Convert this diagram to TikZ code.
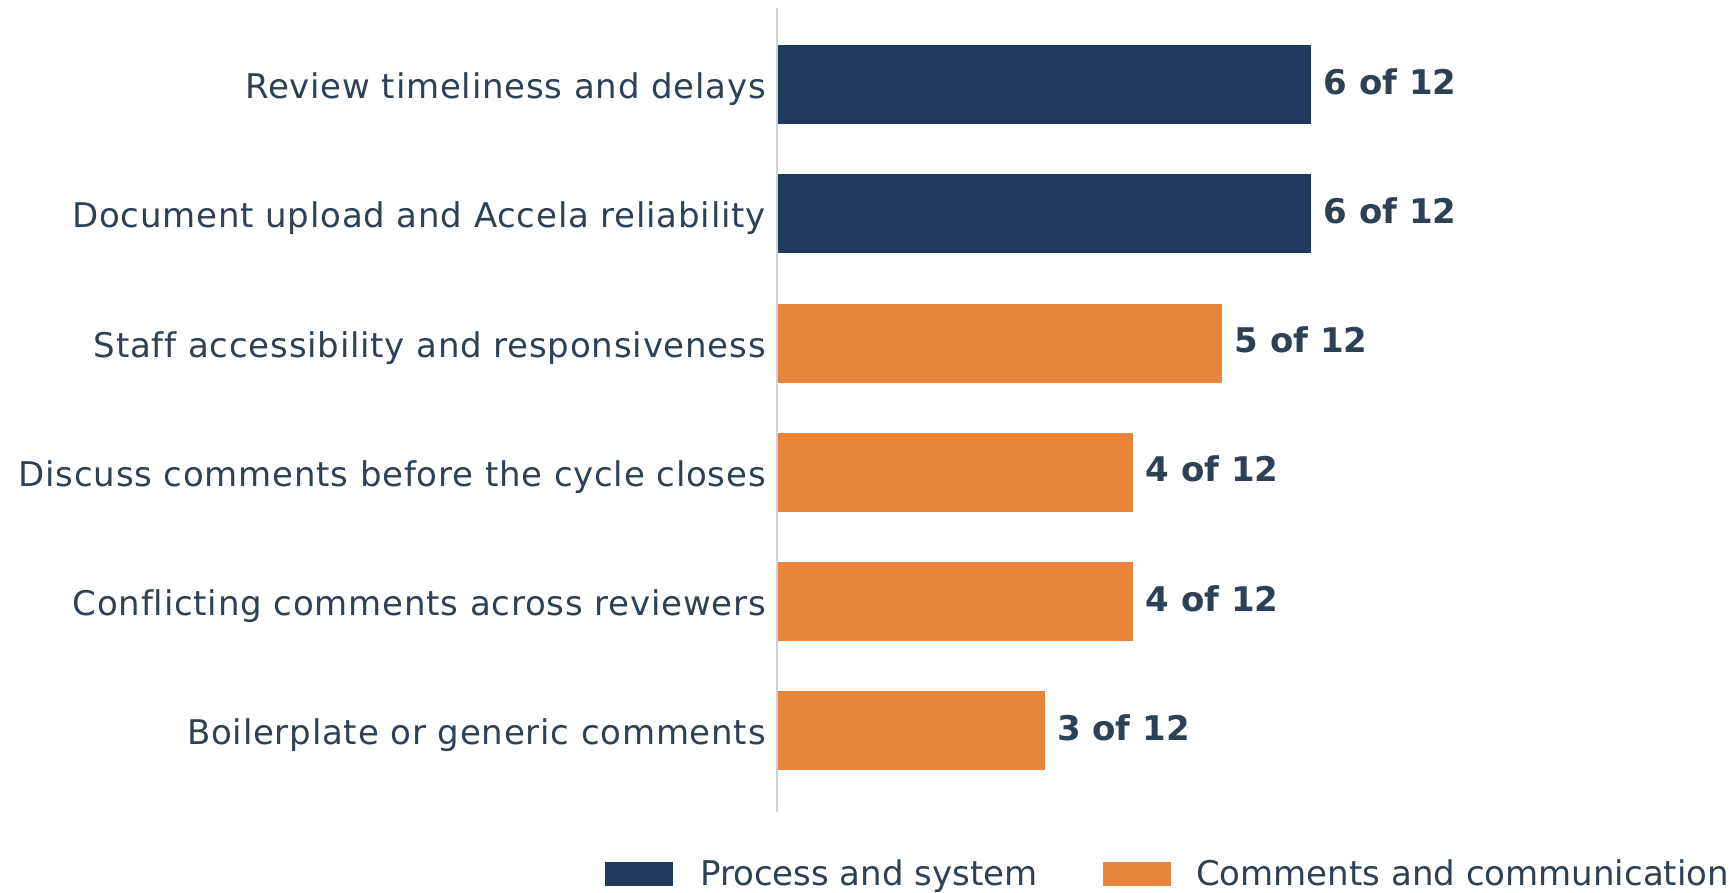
\documentclass[tikz,border=0pt]{standalone}
\usepackage{fontspec}
\setmainfont{DejaVu Sans}[Ligatures=NoCommon]
\newfontfamily\catfont{DejaVu Sans}[Ligatures=NoCommon,LetterSpace=2.3]
\definecolor{navy}{RGB}{31,58,93}
\definecolor{orng}{RGB}{232,132,60}
\definecolor{txt}{RGB}{46,64,83}
\definecolor{axisgray}{RGB}{204,209,217}
\begin{document}
\begin{tikzpicture}[x=1pt,y=-1pt,
  barnavy/.style={fill=navy,draw=none},
  barorng/.style={fill=orng,draw=none},
  catlabel/.style={anchor=base east,inner sep=0pt,text=txt,font=\catfont\fontsize{34}{40}\selectfont},
  vallabel/.style={anchor=base west,inner sep=0pt,text=txt,font=\fontsize{34}{40}\selectfont\bfseries},
  legtext/.style={anchor=base west,inner sep=0pt,text=txt,font=\fontsize{34}{40}\selectfont}]
\useasboundingbox (0,0) rectangle (1732,892);
\fill[white] (0,0) rectangle (1732,892);
% bars: left 778, unit 88.8, height 79
\node[barnavy,minimum width=533pt,minimum height=79pt,inner sep=0pt,anchor=west] (b1) at (778,84.5) {};
\node[barnavy,minimum width=533pt,minimum height=79pt,inner sep=0pt,anchor=west] (b2) at (778,213.7) {};
\node[barorng,minimum width=444pt,minimum height=79pt,inner sep=0pt,anchor=west] (b3) at (778,343) {};
\node[barorng,minimum width=355pt,minimum height=79pt,inner sep=0pt,anchor=west] (b4) at (778,472) {};
\node[barorng,minimum width=355pt,minimum height=79pt,inner sep=0pt,anchor=west] (b5) at (778,601.5) {};
\node[barorng,minimum width=266.5pt,minimum height=79pt,inner sep=0pt,anchor=west] (b6) at (778,730.6) {};
% axis
\coordinate (axtop) at (776.5,7.5);
\coordinate (axbot) at (776.5,812);
\draw[axisgray,line width=2pt] (axtop) -- (axbot);
% category labels
\node[catlabel] (l1) at (766,98.5) {Review timeliness and delays};
\node[catlabel] (l2) at (766,227.7) {Document upload and Accela reliability};
\node[catlabel] (l3) at (766,357) {Staff accessibility and responsiveness};
\node[catlabel] (l4) at (766,486) {Discuss comments before the cycle closes};
\node[catlabel] (l5) at (766,615.5) {Conflicting comments across reviewers};
\node[catlabel] (l6) at (766,744.6) {Boilerplate or generic comments};
% value labels
\node[vallabel] (v1) at ([xshift=12pt,yshift=-9.5pt]b1.east) {6 of 12};
\node[vallabel] (v2) at ([xshift=12pt,yshift=-9.5pt]b2.east) {6 of 12};
\node[vallabel] (v3) at ([xshift=12pt,yshift=-9.5pt]b3.east) {5 of 12};
\node[vallabel] (v4) at ([xshift=12pt,yshift=-9.5pt]b4.east) {4 of 12};
\node[vallabel] (v5) at ([xshift=12pt,yshift=-9.5pt]b5.east) {4 of 12};
\node[vallabel] (v6) at ([xshift=12pt,yshift=-9.5pt]b6.east) {3 of 12};
% legend
\node[barnavy,minimum width=68pt,minimum height=24pt,inner sep=0pt] (k1) at (639,873.7) {};
\node[legtext] (t1) at (700,885) {Process and system};
\node[barorng,minimum width=68pt,minimum height=24pt,inner sep=0pt] (k2) at (1136.7,873.7) {};
\node[legtext] (t2) at (1196,885) {Comments and communication};
\end{tikzpicture}
\end{document}
